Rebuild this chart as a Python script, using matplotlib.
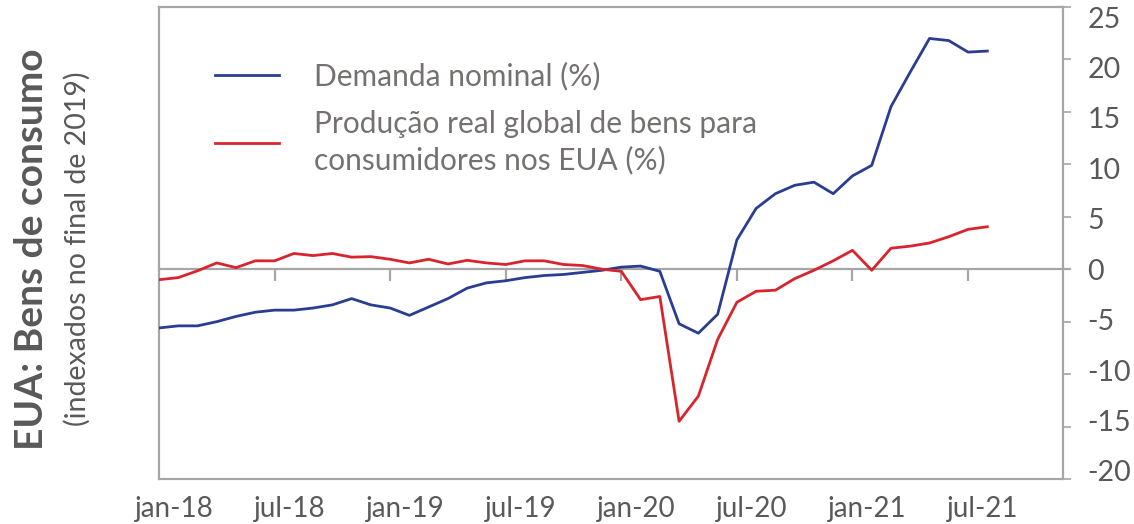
import numpy as np
import matplotlib
matplotlib.use("Agg")
import matplotlib.pyplot as plt
import matplotlib.transforms as mtransforms

plt.rcParams['font.family'] = ['Lato', 'DejaVu Sans']

# monthly data, jan-18 .. aug-21
months = np.arange(44)
demanda = [-5.6, -5.4, -5.4, -5.0, -4.5, -4.1, -3.9, -3.9, -3.7, -3.4,
           -2.8, -3.4, -3.7, -4.4, -3.6, -2.8, -1.8, -1.3, -1.1, -0.8,
           -0.6, -0.5, -0.3, -0.1, 0.2, 0.3, -0.2, -5.2, -6.1, -4.3,
           2.8, 5.8, 7.2, 8.0, 8.3, 7.2, 8.9, 9.9, 15.5, 18.8,
           22.0, 21.8, 20.7, 20.8]
producao = [-1.0, -0.8, -0.15, 0.6, 0.15, 0.8, 0.8, 1.5, 1.3, 1.5,
            1.15, 1.2, 0.95, 0.6, 0.95, 0.5, 0.85, 0.6, 0.45, 0.8,
            0.8, 0.45, 0.35, 0.0, -0.2, -2.9, -2.6, -14.5, -12.1, -6.7,
            -3.15, -2.1, -2.0, -0.9, -0.1, 0.8, 1.8, -0.1, 2.0, 2.2,
            2.5, 3.1, 3.8, 4.05]
tick_pos = [0, 6, 12, 18, 24, 30, 36, 42]
tick_lab = ['jan-18', 'jul-18', 'jan-19', 'jul-19', 'jan-20', 'jul-20', 'jan-21', 'jul-21']
y_ticks = [25, 20, 15, 10, 5, 0, -5, -10, -15, -20]

grey = '#a6a6a6'
txt = '#595959'
blue = '#2b3d90'
red = '#d8242d'

fig = plt.figure(figsize=(11.34, 5.24), dpi=100)
ax = fig.add_axes([159/1134, 1 - 479/524, (1063-159)/1134, (479-7)/524])

ax.axhline(0, color=grey, lw=1.6, zorder=1, clip_on=False, xmax=1.008)
ax.vlines(tick_pos[1:], -1.1, 0, color=grey, lw=1.6, zorder=1)
ax.plot(months, demanda, color=blue, lw=2.0, label='Demanda nominal (%)', zorder=3)
ax.plot(months, producao, color=red, lw=2.0,
        label='Produção real global de bens para\nconsumidores nos EUA (%)', zorder=3)

ax.set_xlim(0, 46.93)
ax.set_ylim(-20, 25)
for s in ax.spines.values():
    s.set_color(grey)
    s.set_linewidth(1.6)

ax.yaxis.tick_right()
ax.set_yticks(y_ticks)
ax.set_yticklabels([str(v) for v in y_ticks])
ax.tick_params(axis='y', direction='out', length=5.5, width=1.2, color=grey,
               labelsize=20.5, labelcolor=txt, pad=12)
# labels in the original sit a little closer together than the ticks
for v, lab in zip(y_ticks, ax.get_yticklabels()):
    lab.set_horizontalalignment('left')
    lab.set_transform(lab.get_transform() +
                      mtransforms.ScaledTranslation(0, -0.4 * v / 100, fig.dpi_scale_trans))

ax.set_xticks(tick_pos)
ax.set_xticklabels(tick_lab)
ax.tick_params(axis='x', length=0, labelsize=20, labelcolor=txt, pad=12.5)
offset = mtransforms.ScaledTranslation(15/100, 0, fig.dpi_scale_trans)
for lab in ax.get_xticklabels():
    lab.set_transform(lab.get_transform() + offset)

leg = ax.legend(loc='upper left', bbox_to_anchor=(215/1134, 1 - 62/524),
                bbox_transform=fig.transFigure, frameon=False, fontsize=21.5,
                handlelength=2.15, handletextpad=1.15, borderpad=0,
                borderaxespad=0, labelspacing=0.65)
for t in leg.get_texts():
    t.set_color('#767171')
    t.set_linespacing(1.31)

fig.text(32/1134, 1 - 249/524, 'EUA: Bens de consumo', rotation=90, ha='center',
         va='center', fontsize=28, fontweight='bold', color=txt)
fig.text(77/1134, 1 - 249/524, '(indexados no final de 2019)', rotation=90,
         ha='center', va='center', fontsize=20.5, color=txt)

fig.savefig('out.png', dpi=100)
